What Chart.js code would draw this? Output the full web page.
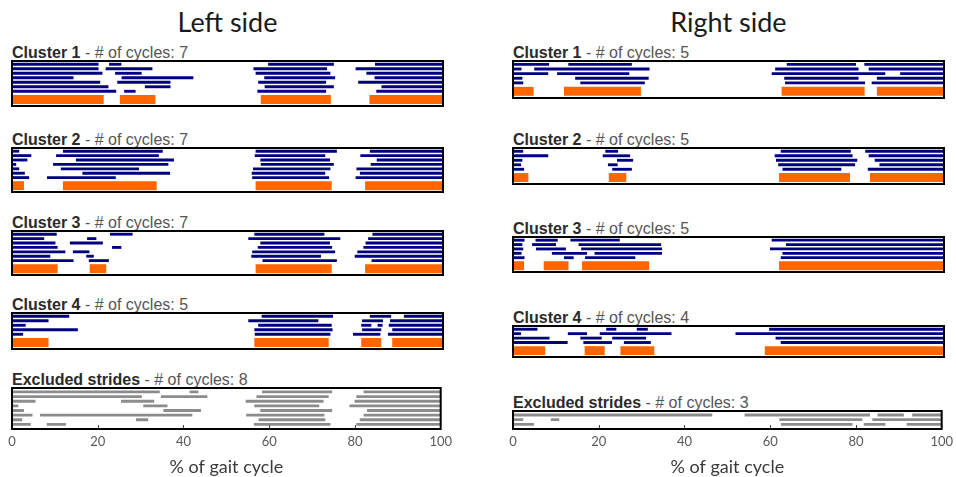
<!DOCTYPE html>
<html>
<head>
<meta charset="utf-8">
<script src="https://cdn.jsdelivr.net/npm/chart.js@4"></script>
<style>
  body { margin: 0; background: #fff; width: 956px; height: 477px; position: relative; overflow: hidden; }
  .side { position: absolute; top: 8px; font: 27px Lato, sans-serif; line-height: 27px; color: #1a1a1a; text-align: center; }
  .ttl { position: absolute; font: 16px "Liberation Sans", Arial, sans-serif; line-height: 16px; color: #555; white-space: nowrap; }
  .ttl b { color: #2b2b2b; }
  canvas { position: absolute; }
</style>
</head>
<body>
<script>
// x ticks, % of gait cycle
const xTicks = [0, 20, 40, 60, 80, 100];

// left side: one row per cycle, each row a list of [on, off] in % of cycle
const leftC1 = [
  [[0, 20], [22.6, 25.3], [59.5, 74.6], [84.3, 100]],
  [[0, 20], [21.8, 32.5], [56.1, 73], [79.8, 100]],
  [[0, 20.9], [24, 30], [56.6, 73.8], [82.3, 100]],
  [[0, 14.2], [25.5, 42], [58.6, 74.9], [84.2, 100]],
  [[0, 20.4], [24.5, 36.7], [57.2, 72.8], [80.4, 100]],
  [[0, 22.3], [30.9, 36.7], [58.7, 74.6], [85.8, 100]],
  [[0, 24.1], [26.1, 28.6], [57, 72.8], [84.6, 100]]
];
const leftC1Pattern = [[0, 21.2], [25.1, 33.2], [57.8, 73.9], [83, 100]];

const leftC2 = [
  [[0, 1.6], [11.9, 34.9], [56.6, 75.3], [83.1, 100]],
  [[0, 4.4], [10.3, 34], [56.4, 72.6], [80.9, 100]],
  [[0, 3.5], [14.9, 37.5], [57.7, 73.7], [84.7, 100]],
  [[0, 0.9], [9.6, 36.2], [57.8, 74.6], [83.3, 100]],
  [[0, 1.6], [11.4, 29.4], [56, 73.8], [80, 100]],
  [[0, 2.9], [16.4, 36.6], [55.7, 72.6], [80.8, 100]],
  [[0, 3.9], [8.2, 24], [55.8, 73.5], [79.8, 100]]
];
const leftC2Pattern = [[0, 2.7], [11.9, 33.5], [56.6, 74.1], [82, 100]];

const leftC3 = [
  [[0, 10.3], [22.8, 27.9], [56.3, 72.4], [83.7, 100]],
  [[0, 7.4], [17.5, 19.5], [54.9, 76.1], [82.7, 100]],
  [[0, 10], [13.5, 21], [57.7, 73.7], [82.1, 100]],
  [[0, 10.5], [23.3, 25.3], [57.1, 74.2], [81.6, 100]],
  [[0, 12.3], [14.2, 17.9], [55.8, 74.9], [80.2, 100]],
  [[0, 8.8], [17.3, 18.9], [55.6, 71.6], [79.6, 100]],
  [[0, 14.2], [17.9, 22.4], [58.2, 75.3], [83.5, 100]]
];
const leftC3Pattern = [[0, 10.5], [18.1, 21.8], [56.6, 74.1], [82, 100]];

const leftC4 = [
  [[0, 13.2], [58, 74.4], [83.1, 87.9], [91, 100]],
  [[0, 8.4], [54.9, 71], [81.3, 86], [87.8, 100]],
  [[0, 3.1], [57.2, 74.1], [81.1, 83.3], [84.9, 85.9], [87.5, 100]],
  [[0, 15.2], [56.3, 74.3], [81.3, 85.6], [88.3, 100]],
  [[0, 2.5], [56.4, 73.8], [79.2, 85.4], [87.3, 100]]
];
const leftC4Pattern = [[0, 8.4], [56.3, 73.4], [81.1, 85.6], [88.3, 100]];

const leftExcluded = [
  [[0, 34.4], [41.5, 43.4], [58.4, 74.6], [82.1, 100]],
  [[0, 30.2], [34.8, 45.5], [57.1, 73.8], [80.4, 100]],
  [[0, 5.4], [25.5, 33.1], [54.6, 72.6], [80, 100]],
  [[0, 1.4], [30.7, 36.2], [56.6, 71.6], [78.8, 100]],
  [[0, 2.7], [35.4, 44], [58, 74.6], [82.9, 100]],
  [[0, 4.7], [6.6, 42], [54.7, 72.8], [82.1, 100]],
  [[0, 2.3], [29, 31.7], [57.6, 73], [81.2, 100]],
  [[0, 4.3], [8.2, 12.5], [56.5, 74.2], [80.4, 100]]
];

// right side
const rightC1 = [
  [[0, 8.3], [12.9, 27.5], [63.6, 79.5], [81.6, 100]],
  [[0, 1.9], [5, 31.6], [60.9, 80.1], [82.6, 100]],
  [[0, 8.1], [10.3, 26.9], [60.1, 86.3], [89.9, 100]],
  [[0, 2.1], [14.5, 31.4], [63, 80.1], [84.5, 100]],
  [[0, 2.3], [15.7, 30.5], [63.2, 81.6], [83.3, 100]]
];
const rightC1Pattern = [[0, 4.7], [11.9, 29.6], [62.4, 81.5], [84.5, 100]];

const rightC2 = [
  [[0, 2.3], [21.5, 24.3], [62.2, 78.3], [81.8, 100]],
  [[0, 8.1], [20.9, 27.1], [60.8, 78.7], [82.6, 100]],
  [[0, 2.1], [24.2, 27.8], [61.1, 79.8], [84, 100]],
  [[0, 1.8], [22.1, 24.2], [61.6, 79.3], [85.1, 100]],
  [[0, 2.5], [23.1, 27.5], [62.6, 76.1], [82.4, 100]]
];
const rightC2Pattern = [[0, 3.5], [22.3, 26.2], [61.8, 78.1], [82.9, 100]];

const rightC3 = [
  [[0, 2.6], [5.3, 10.3], [13.4, 24.7], [60.1, 100]],
  [[0, 2.1], [4.5, 9.9], [15.3, 34.3], [63.4, 100]],
  [[0, 2.3], [5.4, 12.2], [15.9, 34.5], [59.7, 100]],
  [[0, 1.9], [9.1, 17.1], [19, 34.5], [62.6, 100]],
  [[0, 2.6], [11.9, 14], [16.8, 28.3], [62.2, 100]]
];
const rightC3Pattern = [[0, 2.5], [7.2, 12.8], [16.1, 31.5], [61.8, 100]];

const rightC4 = [
  [[0, 5.6], [21.7, 23.9], [28.8, 31.2], [59.5, 100]],
  [[0, 1.8], [12.8, 17.1], [20.2, 36.7], [51.7, 100]],
  [[0, 8.4], [15.7, 20.5], [23.1, 30.8], [61, 100]],
  [[0, 12.6], [16.4, 22.9], [25.8, 31.9], [62.2, 100]]
];
const rightC4Pattern = [[0, 7.4], [16.7, 21.2], [25, 32.7], [58.5, 100]];

const rightExcluded = [
  [[0, 46.4], [54.1, 83.2], [85.1, 91.1], [93.2, 100]],
  [[0, 2.3], [8.9, 10.7], [62.2, 81.4], [83.9, 100]],
  [[0, 4.8], [62.6, 79.1], [81.9, 86.8], [91.9, 100]]
];

const NAVY = '#000080', ORANGE = '#ff6600', GREY = '#8c8c8c';
const PX = 14, PY = 2, AXIS_H = 47;

// page layout: column edges and the top/bottom of each framed panel
const columns = [
  { title: 'Left side', left: 12, right: 443, panels: [
    { name: 'Cluster 1', rows: leftC1, pattern: leftC1Pattern, top: 61, bottom: 106 },
    { name: 'Cluster 2', rows: leftC2, pattern: leftC2Pattern, top: 148, bottom: 192 },
    { name: 'Cluster 3', rows: leftC3, pattern: leftC3Pattern, top: 231, bottom: 275 },
    { name: 'Cluster 4', rows: leftC4, pattern: leftC4Pattern, top: 313, bottom: 349 },
    { name: 'Excluded strides', rows: leftExcluded, top: 388, bottom: 429, axis: true }
  ]},
  { title: 'Right side', left: 513, right: 944, panels: [
    { name: 'Cluster 1', rows: rightC1, pattern: rightC1Pattern, top: 61, bottom: 98 },
    { name: 'Cluster 2', rows: rightC2, pattern: rightC2Pattern, top: 148, bottom: 184 },
    { name: 'Cluster 3', rows: rightC3, pattern: rightC3Pattern, top: 237, bottom: 272 },
    { name: 'Cluster 4', rows: rightC4, pattern: rightC4Pattern, top: 326, bottom: 357 },
    { name: 'Excluded strides', rows: rightExcluded, top: 411, bottom: 429, axis: true }
  ]}
];

// black box round the plot area, small inward ticks on the bottom axis
const framePlugin = {
  id: 'frame',
  afterDatasetsDraw(chart) {
    const { ctx, chartArea: a, scales: { x } } = chart;
    ctx.save();
    if (x.options.display) {
      ctx.strokeStyle = '#444';
      ctx.lineWidth = 1;
      ctx.beginPath();
      xTicks.slice(1, -1).forEach(v => {
        const px = Math.round(x.getPixelForValue(v)) + 0.5;
        ctx.moveTo(px, a.bottom);
        ctx.lineTo(px, a.bottom - 4);
      });
      ctx.stroke();
    }
    ctx.strokeStyle = '#000';
    ctx.lineWidth = 2;
    ctx.strokeRect(a.left, a.top, a.right - a.left, a.bottom - a.top);
    ctx.restore();
  }
};

function addPanel(col, p) {
  const n = p.rows.length;
  const grey = !p.pattern;
  const h = p.bottom - p.top;

  const ttl = document.createElement('div');
  ttl.className = 'ttl';
  ttl.style.left = col.left + 'px';
  ttl.style.top = (p.top - 16) + 'px';
  ttl.innerHTML = '<b>' + p.name + '</b> - # of cycles: ' + n;
  document.body.appendChild(ttl);

  const cv = document.createElement('canvas');
  cv.width = col.right - col.left + 2 * PX;
  cv.height = h + PY + (p.axis ? AXIS_H : PY);
  cv.style.left = (col.left - PX) + 'px';
  cv.style.top = (p.top - PY) + 'px';
  document.body.appendChild(cv);

  // both datasets share one stack so the fixed bar thickness is centred on the row
  const strides = [];
  p.rows.forEach((segs, i) => segs.forEach(s => strides.push({ x: s, y: i + 1 })));
  const datasets = [{ data: strides, backgroundColor: grey ? GREY : NAVY, barThickness: 2.2, stack: 'rows' }];
  if (!grey) {
    datasets.push({ data: p.pattern.map(s => ({ x: s, y: n + 1.83 })), backgroundColor: ORANGE, barThickness: 8.3, stack: 'rows' });
  }

  const xScale = {
    type: 'linear', min: 0, max: 100, stacked: false,
    display: !!p.axis,
    grid: { display: false, drawTicks: false },
    border: { display: false },
    afterBuildTicks: s => { s.ticks = xTicks.map(v => ({ value: v })); },
    ticks: { padding: 5, color: '#595959', font: { family: 'Lato', size: 13 } },
    title: { display: true, text: '% of gait cycle', color: '#3a3a3a', padding: { top: 0, bottom: 0 },
             font: { family: 'Lato', size: 18, lineHeight: 1 } }
  };
  if (p.axis) xScale.afterFit = s => { s.height = AXIS_H; };

  new Chart(cv, {
    type: 'bar',
    data: { datasets },
    options: {
      indexAxis: 'y',
      responsive: false,
      animation: false,
      layout: { padding: { left: PX, right: PX, top: PY, bottom: p.axis ? 0 : PY } },
      plugins: { legend: { display: false }, tooltip: { enabled: false } },
      scales: {
        x: xScale,
        y: {
          type: 'linear', reverse: true, display: false, offset: false,
          min: grey ? 0.15 : 0.27,
          max: grey ? n + 1 : n + 3.27
        }
      }
    },
    plugins: [framePlugin]
  });
}

columns.forEach(col => {
  const t = document.createElement('div');
  t.className = 'side';
  t.style.left = col.left + 'px';
  t.style.width = (col.right - col.left) + 'px';
  t.textContent = col.title;
  document.body.appendChild(t);
  col.panels.forEach(p => addPanel(col, p));
});
</script>
</body>
</html>
